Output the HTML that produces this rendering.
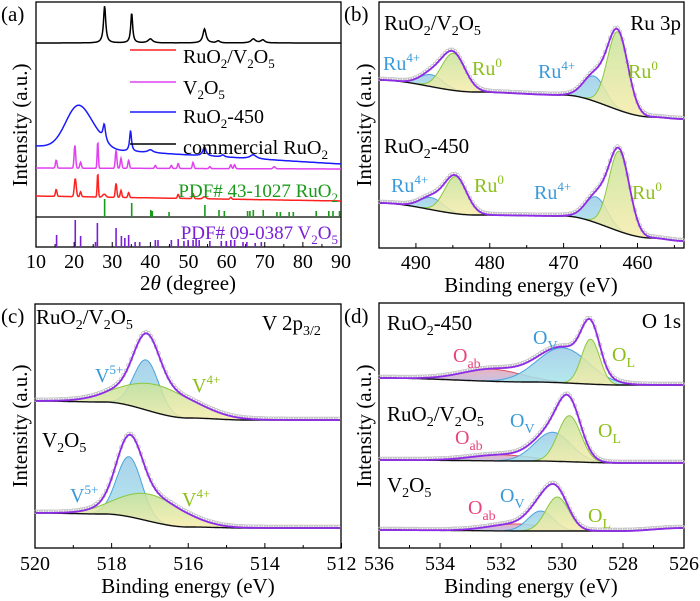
<!DOCTYPE html>
<html><head><meta charset="utf-8"><style>
html,body{margin:0;padding:0;background:#fff}
svg{display:block;font-family:"Liberation Serif",serif}
</style></head><body>
<svg id="fig" width="700" height="601" viewBox="0 0 700 601" xmlns="http://www.w3.org/2000/svg">
<defs>
<linearGradient id="g0" x1="0" y1="0" x2="0" y2="1"><stop offset="0" stop-color="#c6e39a"/><stop offset="1" stop-color="#f6ecaa"/></linearGradient>
<linearGradient id="gb" x1="0" y1="0" x2="0" y2="1"><stop offset="0" stop-color="#9ccbe8"/><stop offset="1" stop-color="#a8e6ea"/></linearGradient>
<linearGradient id="gp" x1="0" y1="0" x2="0" y2="1"><stop offset="0" stop-color="#e2a9b8"/><stop offset="1" stop-color="#b9b8e6"/></linearGradient>
</defs>
<g id="layer"></g>
<g id="texts" font-size="21">
<text x="1" y="21">(a)</text>
<text x="1" y="323">(c)</text>
<text x="344" y="21">(b)</text>
<text x="344" y="323">(d)</text>
<text transform="translate(27,125) rotate(-90)" text-anchor="middle">Intensity (a.u.)</text>
<text transform="translate(371,125) rotate(-90)" text-anchor="middle">Intensity (a.u.)</text>
<text transform="translate(27,426) rotate(-90)" text-anchor="middle">Intensity (a.u.)</text>
<text transform="translate(371,426) rotate(-90)" text-anchor="middle">Intensity (a.u.)</text>
<text x="188" y="290" text-anchor="middle">2<tspan font-style="italic">θ</tspan> (degree)</text>
<text x="531" y="292" text-anchor="middle">Binding energy (eV)</text>
<text x="188" y="593" text-anchor="middle">Binding energy (eV)</text>
<text x="531" y="593" text-anchor="middle">Binding energy (eV)</text>
<g font-size="20">
<line x1="130" y1="50" x2="176" y2="50" stroke="#ff2020" stroke-width="1.5"/>
<line x1="130" y1="82" x2="176" y2="82" stroke="#e040f0" stroke-width="1.5"/>
<line x1="130" y1="112" x2="176" y2="112" stroke="#1a1aff" stroke-width="1.5"/>
<line x1="130" y1="144" x2="176" y2="144" stroke="#000" stroke-width="1.5"/>
<text x="183" y="63">RuO<tspan font-size="13" dy="5">2</tspan><tspan dy="-5">/V</tspan><tspan font-size="13" dy="5">2</tspan><tspan dy="-5">O</tspan><tspan font-size="13" dy="5">5</tspan></text>
<text x="183" y="94">V<tspan font-size="13" dy="5">2</tspan><tspan dy="-5">O</tspan><tspan font-size="13" dy="5">5</tspan></text>
<text x="183" y="123">RuO<tspan font-size="13" dy="5">2</tspan><tspan dy="-5">-450</tspan></text>
<text x="183" y="154" textLength="145" lengthAdjust="spacingAndGlyphs">commercial RuO<tspan font-size="13" dy="5">2</tspan></text>
</g>
<text x="338" y="197" text-anchor="end" font-size="19" fill="#1a9a1a">PDF# 43-1027 RuO<tspan font-size="13" dy="5">2</tspan></text>
<text x="338" y="239" text-anchor="end" font-size="19" fill="#7a1fd6">PDF# 09-0387 V<tspan font-size="13" dy="5">2</tspan><tspan dy="-5">O</tspan><tspan font-size="13" dy="5">5</tspan></text>
<text x="384" y="30">RuO<tspan font-size="14" dy="5">2</tspan><tspan dy="-5">/V</tspan><tspan font-size="14" dy="5">2</tspan><tspan dy="-5">O</tspan><tspan font-size="14" dy="5">5</tspan></text>
<text x="681" y="30" text-anchor="end">Ru 3p</text>
<text x="384" y="153">RuO<tspan font-size="14" dy="5">2</tspan><tspan dy="-5">-450</tspan></text>
<g fill="#3a9ad9" font-size="20"><text x="383" y="70">Ru<tspan font-size="13" dy="-8">4+</tspan></text><text x="538" y="78">Ru<tspan font-size="13" dy="-8">4+</tspan></text><text x="391" y="192">Ru<tspan font-size="13" dy="-8">4+</tspan></text><text x="534" y="199">Ru<tspan font-size="13" dy="-8">4+</tspan></text></g>
<g fill="#8cbf1a" font-size="20"><text x="472" y="75">Ru<tspan font-size="13" dy="-8">0</tspan></text><text x="628" y="78">Ru<tspan font-size="13" dy="-8">0</tspan></text><text x="474" y="192">Ru<tspan font-size="13" dy="-8">0</tspan></text><text x="632" y="199">Ru<tspan font-size="13" dy="-8">0</tspan></text></g>
<text x="36" y="324">RuO<tspan font-size="14" dy="5">2</tspan><tspan dy="-5">/V</tspan><tspan font-size="14" dy="5">2</tspan><tspan dy="-5">O</tspan><tspan font-size="14" dy="5">5</tspan></text>
<text x="262" y="330">V 2p<tspan font-size="14" dy="5">3/2</tspan></text>
<text x="42" y="447">V<tspan font-size="14" dy="5">2</tspan><tspan dy="-5">O</tspan><tspan font-size="14" dy="5">5</tspan></text>
<g fill="#3a9ad9" font-size="20"><text x="95" y="382">V<tspan font-size="13" dy="-8">5+</tspan></text><text x="70" y="552" dy="-50">V<tspan font-size="13" dy="-8">5+</tspan></text></g>
<g fill="#8cbf1a" font-size="20"><text x="192" y="392">V<tspan font-size="13" dy="-8">4+</tspan></text><text x="182" y="506">V<tspan font-size="13" dy="-8">4+</tspan></text></g>
<text x="387" y="330">RuO<tspan font-size="14" dy="5">2</tspan><tspan dy="-5">-450</tspan></text>
<text x="681" y="328" text-anchor="end">O 1s</text>
<text x="387" y="421">RuO<tspan font-size="14" dy="5">2</tspan><tspan dy="-5">/V</tspan><tspan font-size="14" dy="5">2</tspan><tspan dy="-5">O</tspan><tspan font-size="14" dy="5">5</tspan></text>
<text x="387" y="492">V<tspan font-size="14" dy="5">2</tspan><tspan dy="-5">O</tspan><tspan font-size="14" dy="5">5</tspan></text>
<g fill="#e8457a" font-size="20"><text x="453" y="362">O<tspan font-size="14" dy="6">ab</tspan></text><text x="455" y="444">O<tspan font-size="14" dy="6">ab</tspan></text><text x="468" y="514">O<tspan font-size="14" dy="6">ab</tspan></text></g>
<g fill="#3a9ad9" font-size="20"><text x="533" y="344">O<tspan font-size="14" dy="6">V</tspan></text><text x="510" y="427">O<tspan font-size="14" dy="6">V</tspan></text><text x="500" y="502">O<tspan font-size="14" dy="6">V</tspan></text></g>
<g fill="#8cbf1a" font-size="20"><text x="612" y="361">O<tspan font-size="14" dy="6">L</tspan></text><text x="598" y="437">O<tspan font-size="14" dy="6">L</tspan></text><text x="588" y="522">O<tspan font-size="14" dy="6">L</tspan></text></g>
</g>
</svg>
<script>
// ---------- data ----------
const xrdBlackPeaks=[[28.0,37,0.35],[35.1,30,0.3],[40,4,0.7],[54.2,14,0.5],[57.8,2,0.5],[67,4,0.7],[69.5,3,0.6]];
const xrdBluePeaks=[[21,42,3.2],[26,8,2.5],[27.9,16,0.4],[34.8,21,0.3],[40,3,0.8],[54.2,9,0.5],[59,2,0.5],[67,4,1]];
const xrdMagPeaks=[[15.3,8,0.2],[20.2,23,0.2],[21.7,6,0.2],[26.2,27,0.15],[31,18,0.2],[32.3,10,0.2],[34.3,8,0.2],[41.3,3,0.2],[45.5,3,0.2],[47.3,5,0.2],[51.2,6,0.2],[55.6,2,0.2],[61.1,4,0.2],[62.1,4,0.2],[72.5,2,0.3]];
const xrdRedPeaks=[[15.3,7,0.2],[20.3,18,0.25],[21.7,5,0.2],[26.2,24,0.15],[27.9,3,0.4],[31,14,0.2],[32.3,7,0.2],[34.3,5,0.2],[47.3,4,0.2],[51.2,5,0.2],[54.2,2,0.4],[61.1,2,0.2]];
const xrdBase={black:[43,43],blue:[146,164],mag:[168,169],red:[196,201]};
const pdfRuPos=[28.0,35.1,40.1,40.5,44.9,54.3,58,59.4,65.5,66.1,67,69.6,73.2,74.1,76.4,77.5,83.5,86.8,87.9,89.6];
const pdfRuInt=[18,14,7,6,5,12,7,6,6,6,7,7,5,5,5,5,6,6,6,6];
const pdfVPos=[15.4,20.3,21.7,25.6,26.1,31,32.4,33.3,34.3,36,37.2,41.3,42,45.5,47.3,48.8,49.9,51.2,52,52.8,55.6,58.6,59.9,61.1,62.1,64.3,65.3,67.5,69.1];
const pdfVInt=[12,27,11,5,24,19,11,9,12,5,5,7,7,7,8,6,7,7,9,7,6,6,6,7,7,5,5,4,5];
const ruTopBg=[[495,0],[482,12],[470,15],[458,37],[453.7,39]];
const ruTopPeaks=[[488,12,1.6],[485,37,1.6],[465.8,25,1.5],[462.6,78,1.4]];
const ruBotBg=[[495,0],[482,12],[470,13],[458,35],[453.7,38]];
const ruBotPeaks=[[488,12,1.6],[484.7,37,1.5],[465.5,26,1.5],[462.4,80,1.4]];
const vTopBg=[[520,0],[518.2,1],[516,17],[514.5,19],[512,19]];
const vTopPeaks=[[517.1,50,0.33],[516.8,28,0.95]];
const vBotBg=[[520,0],[518.2,1],[516,14],[514.5,15],[512,15]];
const vBotPeaks=[[517.55,60,0.33],[517.0,27,0.85]];
const oTopBg=[[536,0],[531,4],[528,7],[526,7]];
const oTopPeaks=[[532.3,12,1.0],[529.97,35,0.85],[529.05,45,0.3]];
const oMidBg=[[536,0],[531,1],[528,3],[526,3]];
const oMidPeaks=[[532.0,6,1.0],[530.3,29,0.6],[529.75,46,0.38]];
const oBotBg=[[536,0],[531,1],[528,1],[526,-2]];
const oBotPeaks=[[531.5,7,0.9],[530.7,20,0.42],[530.15,34,0.38]];
// ---------- helpers ----------
const NS='http://www.w3.org/2000/svg';
const layer=document.getElementById('layer');
function mk(tag,attrs,parent){const e=document.createElementNS(NS,tag);for(const k in attrs)e.setAttribute(k,attrs[k]);(parent||layer).appendChild(e);return e;}
const gauss=(x,c,h,s)=>h*Math.exp(-0.5*((x-c)/s)**2);
const lor=(x,c,h,w)=>h/(1+((x-c)/w)**2);
function bgAt(kn,x){
 for(let i=0;i<kn.length-1;i++){const a=kn[i],b=kn[i+1];if(x<=a[0]&&x>=b[0]){let t=(a[0]-x)/(a[0]-b[0]);t=t*t*(3-2*t);return a[1]+(b[1]-a[1])*t;}}
 return kn[kn.length-1][1];}
function frame(x0,x1,y0,y1,name){mk('rect',{x:x0,y:y0,width:x1-x0,height:y1-y0,fill:'none',stroke:'#000','stroke-width':1.3,});}
function ticks(ax,lo,hi,major,minor,yb,yTxt,name){
 const g=mk('g',{});
 const n=Math.round(Math.abs(hi-lo)/minor);
 for(let i=0;i<=n;i++){const v=lo+Math.sign(hi-lo)*i*minor;const X=ax(v);const isM=Math.abs(v/major-Math.round(v/major))<1e-6;
  mk('line',{x1:X,x2:X,y1:yb,y2:yb-(isM?5:3),stroke:'#000','stroke-width':1},g);
  if(isM){const t=mk('text',{x:X,y:yTxt,'text-anchor':'middle','font-size':20},g);t.textContent=String(Math.round(v));}}
}
const xa=v=>36+(v-10)*(305/80);
frame(36,341,2,247,'panel-a-frame');
mk('line',{x1:36,x2:341,y1:217,y2:217,stroke:'#000','stroke-width':1.2});
ticks(xa,10,90,10,5,247,268,'x-axis-a');
function xrdLine(peaks,base,color,name,lorentz){
 let d='';for(let X=36;X<=341;X+=0.5){const v=10+(X-36)*80/305;let y=base[0]+(base[1]-base[0])*(v-10)/80;
  for(const p of peaks)y-=(lorentz&&p[2]<1.5?lor(v,p[0],p[1],p[2]):gauss(v,p[0],p[1],p[2]));
  d+=(d?'L':'M')+X.toFixed(1)+','+y.toFixed(1);}
 const e=mk('path',{d:d,fill:'none',stroke:color,'stroke-width':1.5});
 
 
}
xrdLine(xrdBlackPeaks,xrdBase.black,'#000','xrd-commercial-ruo2',true);
xrdLine(xrdBluePeaks,xrdBase.blue,'#1a1aff','xrd-ruo2-450',true);
xrdLine(xrdMagPeaks,xrdBase.mag,'#e040f0','xrd-v2o5',false);
xrdLine(xrdRedPeaks,xrdBase.red,'#ff2020','xrd-ruo2-v2o5',false);
pdfRuPos.forEach((p,i)=>{const e=mk('line',{x1:xa(p),x2:xa(p),y1:217,y2:217-pdfRuInt[i],stroke:'#1a9a1a','stroke-width':1.6});
 
 });
pdfVPos.forEach((p,i)=>{const e=mk('line',{x1:xa(p),x2:xa(p),y1:247,y2:247-pdfVInt[i],stroke:'#7a1fd6','stroke-width':1.6});
 
 });
function xps(ax,lo,hi,X0,X1,base,bgK,peaks,styles,name){
 const g=mk('g',{});
 
 
 const xs=[];for(let X=X0;X<=X1;X+=0.5)xs.push(X);
 const ev=X=>lo+(X-X0)/(X1-X0)*(hi-lo);
 const bg=X=>base+bgAt(bgK,ev(X));
 peaks.forEach((p,k)=>{const st=styles[k];const pts=xs.filter(X=>gauss(ev(X),p[0],p[1],p[2])>0.3);if(!pts.length)return;
  let d='',dl='';pts.forEach(X=>{const y=bg(X)-gauss(ev(X),p[0],p[1],p[2]);d+=(d?'L':'M')+X+','+y.toFixed(1);});dl=d;
  for(let i=pts.length-1;i>=0;i--)d+='L'+pts[i]+','+bg(pts[i]).toFixed(1);
  mk('path',{d:d+'Z',fill:st[0],'fill-opacity':0.85,stroke:'none'},g);
  mk('path',{d:dl,fill:'none',stroke:st[1],'stroke-width':1},g);});
 xs.forEach((X,i)=>{if(i%5)return;let y=bg(X);for(const p of peaks)y-=gauss(ev(X),p[0],p[1],p[2]);
  mk('circle',{cx:X,cy:(y-1.2).toFixed(1),r:1.8,fill:'none',stroke:'#b8b8b8','stroke-width':0.7},g);});
 let db='';xs.forEach(X=>{db+=(db?'L':'M')+X+','+bg(X).toFixed(1);});
 mk('path',{d:db,fill:'none',stroke:'#111','stroke-width':1.4},g);
 let de='';xs.forEach(X=>{let y=bg(X);for(const p of peaks)y-=gauss(ev(X),p[0],p[1],p[2]);de+=(de?'L':'M')+X+','+y.toFixed(1);});
 mk('path',{d:de,fill:'none',stroke:'#8e2be8','stroke-width':1.8},g);
}
const blue=['url(#gb)','#4aa3dc'],green=['url(#g0)','#8cc63f'],pink=['url(#gp)','#e05060'];
const xb=v=>379+(495-v)*(305/41.3);
frame(379,684,2,248,'panel-b-frame');
ticks(xb,495,455,10,5,248,269,'x-axis-b');
xps(xb,495,453.7,380,683,80,ruTopBg,ruTopPeaks,[blue,green,blue,green],'xps-ru3p-ruo2-v2o5');
xps(xb,495,453.7,380,683,203,ruBotBg,ruBotPeaks,[blue,green,blue,green],'xps-ru3p-ruo2-450');
const xc=v=>35+(520-v)*(306.5/8);
frame(35,341,304,548,'panel-c-frame');
ticks(xc,520,512,2,1,548,570,'x-axis-c');
xps(xc,520,512,36,340,401,vTopBg,vTopPeaks,[blue,green],'xps-v2p-ruo2-v2o5');
xps(xc,520,512,36,340,513,vBotBg,vBotPeaks,[blue,green],'xps-v2p-v2o5');
const xd=v=>379+(536-v)*30.5;
frame(379,684,303,548,'panel-d-frame');
ticks(xd,536,526,2,1,548,570,'x-axis-d');
xps(xd,536,526,380,683,378,oTopBg,oTopPeaks,[pink,blue,green],'xps-o1s-ruo2-450');
xps(xd,536,526,380,683,460,oMidBg,oMidPeaks,[pink,blue,green],'xps-o1s-ruo2-v2o5');
xps(xd,536,526,380,683,530,oBotBg,oBotPeaks,[pink,blue,green],'xps-o1s-v2o5');
</script>
</body></html>
